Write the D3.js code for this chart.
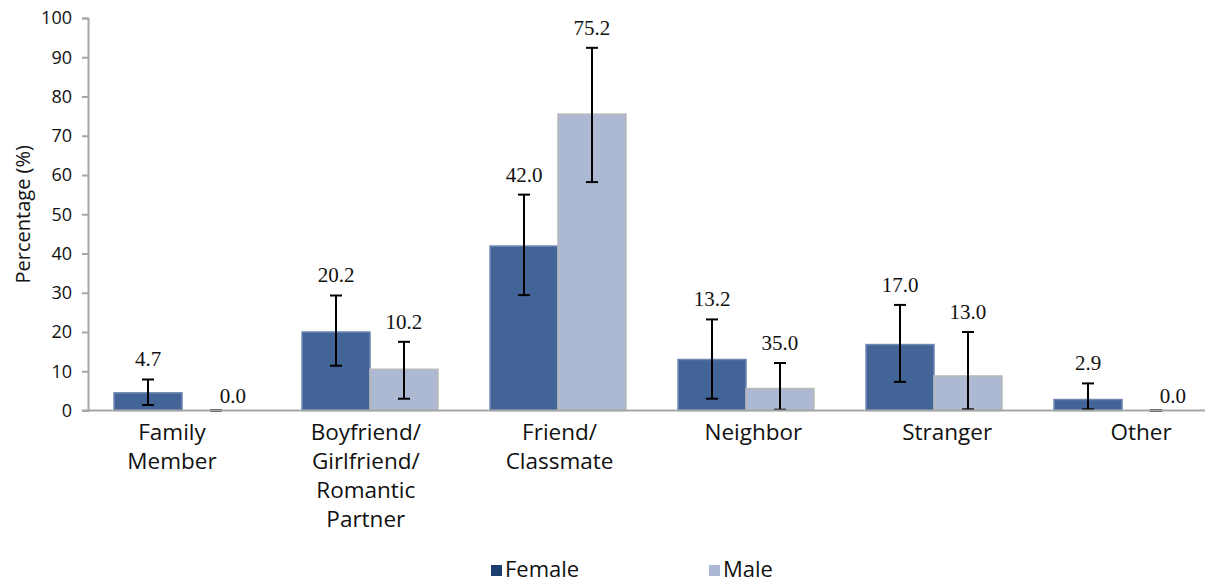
<!DOCTYPE html>
<html>
<head>
<meta charset="utf-8">
<script src="https://cdn.jsdelivr.net/npm/d3@7"></script>
<style>
  body { margin: 0; background: #fff; }
  svg { display: block; }
  .tick text { font-family: "Open Sans", sans-serif; font-size: 18px; fill: #111; }
</style>
</head>
<body>
<script>
// Data
const categories = ['Family Member', 'Boyfriend/ Girlfriend/ Romantic Partner', 'Friend/ Classmate', 'Neighbor', 'Stranger', 'Other'];
const categoryLines = [['Family', 'Member'], ['Boyfriend/', 'Girlfriend/', 'Romantic', 'Partner'], ['Friend/', 'Classmate'], ['Neighbor'], ['Stranger'], ['Other']];
const seriesNames = ['Female', 'Male'];
const femaleValues = [4.5, 20.0, 41.9, 13.0, 16.8, 2.8];
const maleValues = [0.0, 10.5, 75.5, 5.6, 8.8, 0.0];
const femaleLabels = ['4.7', '20.2', '42.0', '13.2', '17.0', '2.9'];
const maleLabels = ['0.0', '10.2', '75.2', '35.0', '13.0', '0.0'];
const femaleErrLow = [1.4, 11.4, 29.4, 3.0, 7.3, 0.3];
const femaleErrHigh = [7.9, 29.3, 55.0, 23.2, 26.9, 6.9];
const maleErrLow = [0.0, 3.0, 58.2, 0.2, 0.3, 0.0];
const maleErrHigh = [0.0, 17.5, 92.4, 12.1, 20.0, 0.0];
const yTicks = [0, 10, 20, 30, 40, 50, 60, 70, 80, 90, 100];

const width = 1205, height = 583;
const margin = { top: 18, left: 88, bottom: 173 };
const plotBottom = height - margin.bottom + 0.5;

const colors = { Female: '#436496', Male: '#adb8d3' };
const legendColors = { Female: '#1c3d6f', Male: '#adb8d3' };

const svg = d3.select('body')
  .append('svg')
  .attr('width', width)
  .attr('height', height);

// Scales
const x = d3.scaleBand()
  .domain(categories)
  .range([margin.left, margin.left + 1128])
  .paddingInner(0.277)
  .paddingOuter(0.1385);

const xSub = d3.scaleBand()
  .domain(seriesNames)
  .range([0, x.bandwidth()]);

// category text sits a little off the bar groups in the original
const xLabel = d3.scalePoint()
  .domain(categories)
  .range([172, 1141]);

const y = d3.scaleLinear()
  .domain([0, 100])
  .range([plotBottom, margin.top]);

const rows = categories.map((c, i) => ({
  category: c,
  bars: [
    { series: 'Female', value: femaleValues[i], label: femaleLabels[i], lo: femaleErrLow[i], hi: femaleErrHigh[i] },
    { series: 'Male', value: maleValues[i], label: maleLabels[i], lo: maleErrLow[i], hi: maleErrHigh[i] }
  ]
}));

// Bars
const groups = svg.selectAll('g.cat')
  .data(rows)
  .enter()
  .append('g')
  .attr('class', 'cat')
  .attr('transform', d => `translate(${x(d.category)}, 0)`);

groups.selectAll('rect')
  .data(d => d.bars.filter(b => b.value > 0))
  .enter()
  .append('rect')
  .attr('x', d => xSub(d.series))
  .attr('y', d => y(d.value))
  .attr('width', xSub.bandwidth())
  .attr('height', d => y(0) - y(d.value))
  .attr('fill', d => colors[d.series])
  .attr('stroke', d => d.series === 'Male' ? '#b9b9b9' : '#6e88b0')
  .attr('stroke-width', 1.5);

// Axes
svg.append('g')
  .attr('class', 'y-axis')
  .attr('transform', `translate(${margin.left}, 0)`)
  .call(d3.axisLeft(y).tickValues(yTicks).tickSize(6).tickPadding(10))
  .call(g => g.select('.domain').attr('stroke', '#a6a6a6').attr('stroke-width', 2))
  .call(g => g.selectAll('.tick line').attr('stroke', '#a6a6a6').attr('stroke-width', 2));

svg.append('line')
  .attr('x1', margin.left - 6)
  .attr('x2', width)
  .attr('y1', y(0))
  .attr('y2', y(0))
  .attr('stroke', '#a6a6a6')
  .attr('stroke-width', 2);

// Error bars
const errs = groups.selectAll('g.err')
  .data(d => d.bars)
  .enter()
  .append('g')
  .attr('class', 'err')
  .attr('transform', d => `translate(${xSub(d.series) + xSub.bandwidth() / 2}, 0)`);

errs.append('line')
  .attr('y1', d => y(d.lo))
  .attr('y2', d => y(d.hi))
  .attr('stroke', '#000')
  .attr('stroke-width', 2);

errs.selectAll('line.cap')
  .data(d => [d.lo, d.hi])
  .enter()
  .append('line')
  .attr('class', 'cap')
  .attr('x1', -6)
  .attr('x2', 6)
  .attr('y1', v => y(v))
  .attr('y2', v => y(v))
  .attr('stroke', '#000')
  .attr('stroke-width', 2);

// Value labels
errs.append('text')
  .attr('x', d => d.value === 0 ? 17 : 0)
  .attr('y', d => d.value === 0 ? y(d.hi) - 8 : y(d.hi) - 13)
  .attr('text-anchor', 'middle')
  .style('font-family', '"Liberation Serif", serif')
  .style('font-size', '21px')
  .attr('fill', '#111')
  .text(d => d.label);

// Category labels
svg.selectAll('text.cat-label')
  .data(categories)
  .enter()
  .append('text')
  .attr('class', 'cat-label')
  .attr('x', d => xLabel(d))
  .attr('y', 440)
  .attr('text-anchor', 'middle')
  .style('font-family', '"Open Sans", sans-serif')
  .style('font-size', '22.5px')
  .attr('fill', '#111')
  .selectAll('tspan')
  .data((d, i) => categoryLines[i])
  .enter()
  .append('tspan')
  .attr('x', function() { return this.parentNode.getAttribute('x'); })
  .attr('dy', (d, i) => i === 0 ? 0 : 29)
  .text(d => d);

// Y axis title
svg.append('text')
  .attr('transform', `translate(30, ${y(50)}) rotate(-90)`)
  .attr('text-anchor', 'middle')
  .style('font-family', '"Open Sans", sans-serif')
  .style('font-size', '20px')
  .attr('fill', '#111')
  .text('Percentage (%)');

// Legend
const legendX = d3.scalePoint()
  .domain(seriesNames)
  .range([491, 709]);

const legend = svg.selectAll('g.legend')
  .data(seriesNames)
  .enter()
  .append('g')
  .attr('class', 'legend')
  .attr('transform', d => `translate(${legendX(d)}, 0)`);

legend.append('rect')
  .attr('x', 0)
  .attr('y', 565)
  .attr('width', 11)
  .attr('height', 11)
  .attr('fill', d => legendColors[d]);

legend.append('text')
  .attr('x', 14)
  .attr('y', 577)
  .style('font-family', '"Open Sans", sans-serif')
  .style('font-size', '22px')
  .attr('fill', '#111')
  .text(d => d);
</script>
</body>
</html>
